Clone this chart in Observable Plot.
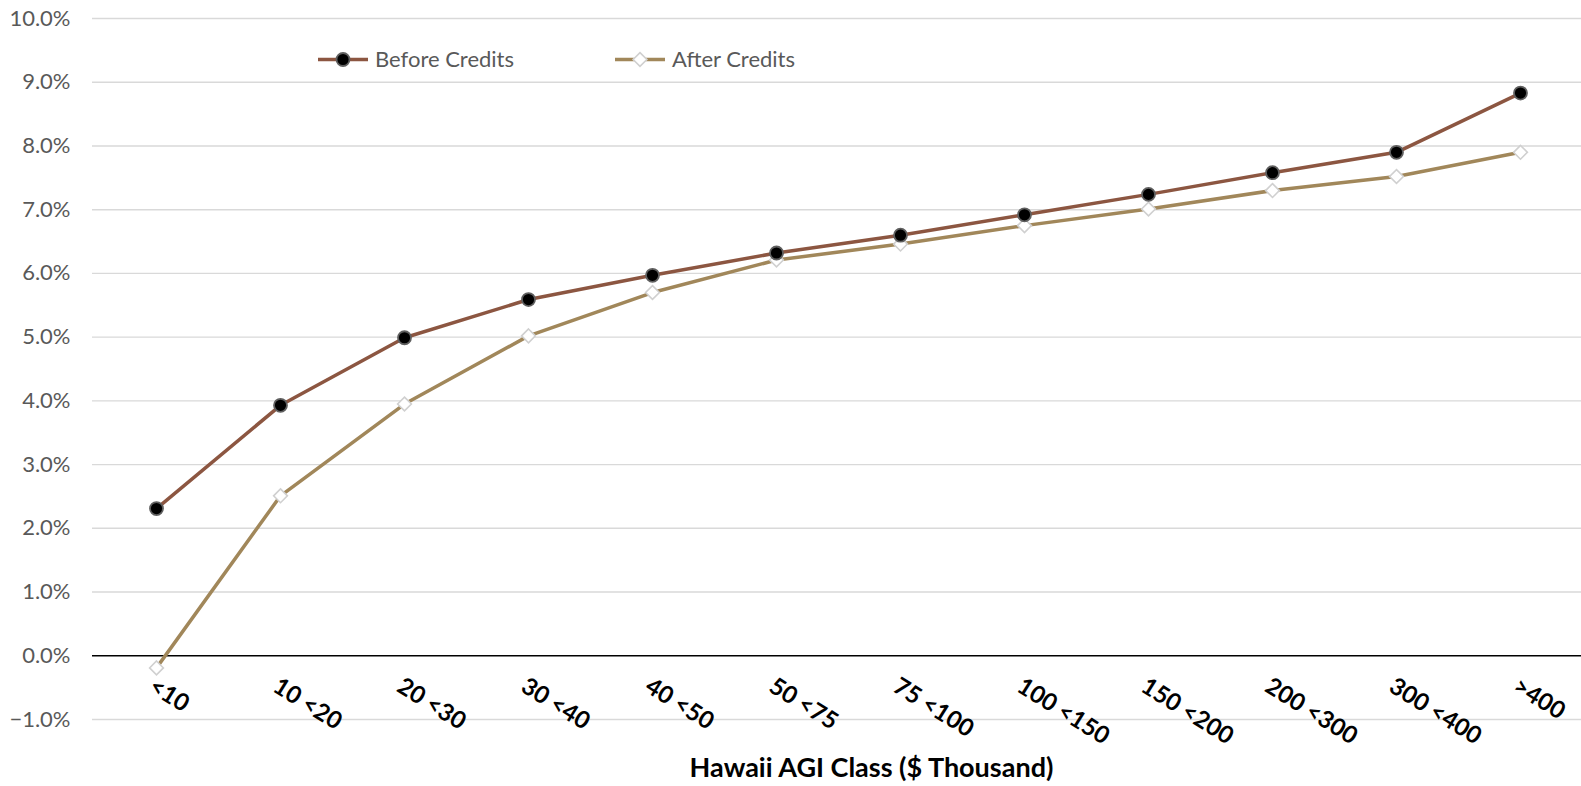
<!DOCTYPE html>
<html>
<head>
<meta charset="utf-8">
<script src="https://cdn.jsdelivr.net/npm/d3@7"></script>
<script src="https://cdn.jsdelivr.net/npm/@observablehq/plot@0.6"></script>
<style>
  html, body { margin: 0; padding: 0; background: #fff; }
  #chart { position: relative; width: 1581px; height: 786px; }
</style>
</head>
<body>
<div id="chart"></div>
<script>
const categories = ["<10", "10 <20", "20 <30", "30 <40", "40 <50", "50 <75", "75 <100", "100 <150", "150 <200", "200 <300", "300 <400", ">400"];
const beforeCredits = [0.0231, 0.0393, 0.0499, 0.0559, 0.0597, 0.0632, 0.0660, 0.0692, 0.0724, 0.0758, 0.0790, 0.0883];
const afterCredits = [-0.0019, 0.0251, 0.0395, 0.0502, 0.0570, 0.0621, 0.0646, 0.0675, 0.0701, 0.0730, 0.0752, 0.0790];
const yTicks = [-0.01, 0, 0.01, 0.02, 0.03, 0.04, 0.05, 0.06, 0.07, 0.08, 0.09, 0.10];
const seriesNames = ["Before Credits", "After Credits"];
const xTitle = "Hawaii AGI Class ($ Thousand)";

const beforeColor = "#8c5641";
const afterColor = "#a1875a";
const font = "Lato, 'Open Sans', sans-serif";

const before = categories.map((c, i) => ({cat: c, v: beforeCredits[i]}));
const after = categories.map((c, i) => ({cat: c, v: afterCredits[i]}));

const plot = Plot.plot({
  width: 1581,
  height: 786,
  marginLeft: 92,
  marginRight: -3,
  marginTop: 18,
  marginBottom: 67,
  style: {fontFamily: font, background: "#fff", overflow: "visible"},
  x: {type: "point", domain: categories, padding: 0.5, axis: null},
  y: {domain: [-0.01, 0.10], axis: null},
  marks: [
    Plot.ruleY(yTicks.filter(d => d !== 0), {stroke: "#d9d9d9", strokeWidth: 1.4}),
    Plot.axisY(yTicks, {tickSize: 0, tickPadding: 22, tickFormat: d3.format(".1%"), fontSize: 22, color: "#595959", label: null}),
    Plot.ruleY([0], {stroke: "#000", strokeWidth: 1.6}),
    Plot.text(categories, {x: d => d, frameAnchor: "bottom", rotate: 32, textAnchor: "start", lineAnchor: "bottom", dx: -9, dy: -29, fontSize: 24, fontWeight: "bold", fill: "#000"}),
    Plot.text([xTitle], {frameAnchor: "bottom", dx: 33, dy: 57, fontSize: 27, fontWeight: "bold", fill: "#000", lineAnchor: "bottom"}),
    Plot.line(after, {x: "cat", y: "v", stroke: afterColor, strokeWidth: 3.5}),
    Plot.line(before, {x: "cat", y: "v", stroke: beforeColor, strokeWidth: 3.5}),
    Plot.dot(after, {x: "cat", y: "v", symbol: "diamond2", r: 6.2, fill: "#fff", stroke: "#d0d0d0", strokeWidth: 1.6}),
    Plot.dot(before, {x: "cat", y: "v", r: 6.5, fill: "#000", stroke: "#5f5f5f", strokeWidth: 1.8})
  ]
});

document.getElementById("chart").appendChild(plot);

// Legend, drawn inside the SVG
const svg = d3.select(plot);
const lg = svg.append("g").attr("font-family", font).attr("font-size", 22).attr("fill", "#595959").attr("text-anchor", "start");
const legendItems = [
  {name: seriesNames[0], x: 318, color: beforeColor, kind: "circle"},
  {name: seriesNames[1], x: 615, color: afterColor, kind: "diamond"}
];
const ly = 59.5;
legendItems.forEach(it => {
  lg.append("line").attr("x1", it.x).attr("x2", it.x + 50).attr("y1", ly).attr("y2", ly)
    .attr("stroke", it.color).attr("stroke-width", 3.5);
  if (it.kind === "circle") {
    lg.append("circle").attr("cx", it.x + 25).attr("cy", ly).attr("r", 6.5)
      .attr("fill", "#000").attr("stroke", "#5f5f5f").attr("stroke-width", 1.8);
  } else {
    lg.append("path").attr("d", d3.symbol(d3.symbolDiamond2, Math.PI * 6.2 * 6.2)())
      .attr("transform", `translate(${it.x + 25},${ly})`)
      .attr("fill", "#fff").attr("stroke", "#d0d0d0").attr("stroke-width", 1.6);
  }
  lg.append("text").attr("x", it.x + 57).attr("y", ly).attr("dy", "0.35em").attr("text-anchor", "start").text(it.name);
});
</script>
</body>
</html>
